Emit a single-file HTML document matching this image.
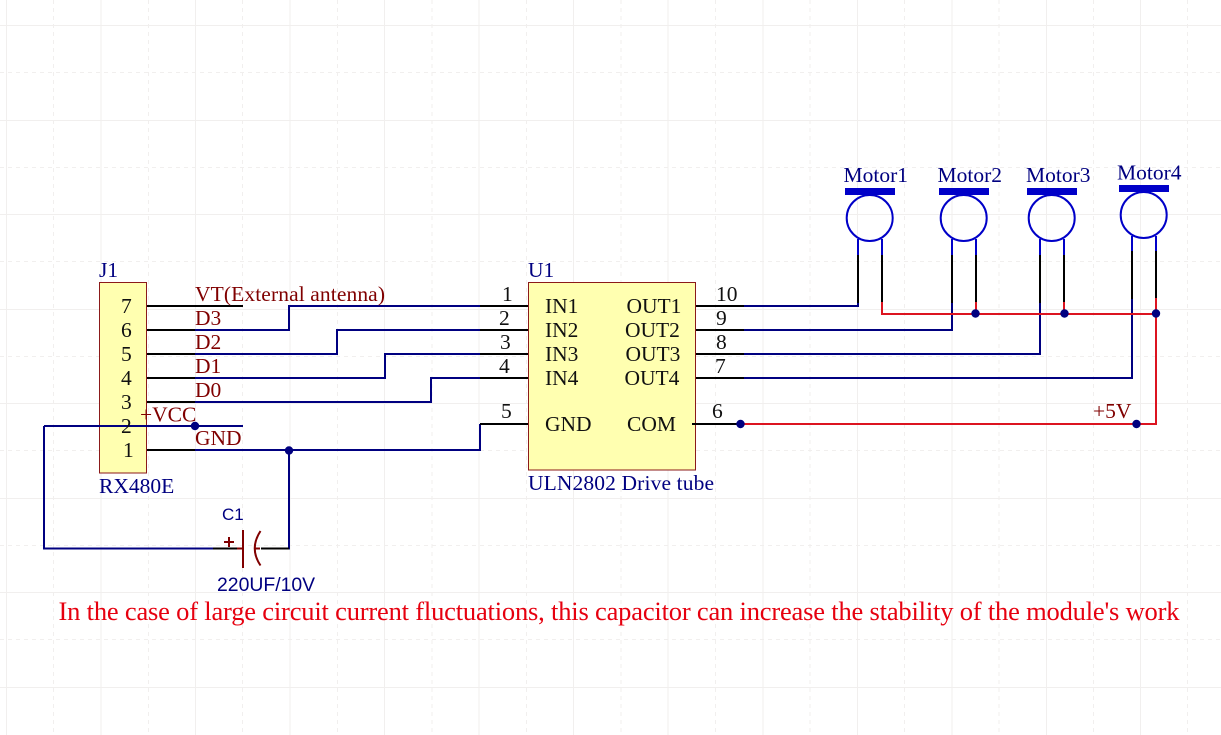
<!DOCTYPE html>
<html><head><meta charset="utf-8"><style>
html,body{margin:0;padding:0;background:#fff}
svg{display:block}
text{font-family:"Liberation Serif",serif;font-size:21.5px}
.n{fill:#000080}.r{fill:#800000}.k{fill:#111}
.a{font-family:"Liberation Sans",sans-serif;font-size:17px;fill:#000080}
</style></head><body>
<svg width="1221" height="735" viewBox="0 0 1221 735" xmlns="http://www.w3.org/2000/svg">
<rect width="1221" height="735" fill="#fff"/>
<g stroke="#f1efee" stroke-width="1" fill="none">
<path d="M6.5 0V735M101 0V735M195.5 0V735M290 0V735M384.5 0V735M479 0V735M573.5 0V735M668 0V735M763 0V735M857.5 0V735M952 0V735M1046.5 0V735M1140.5 0V735"/>
<path d="M0 25.5H1221M0 120.5H1221M0 214.5H1221M0 309.5H1221M0 403.5H1221M0 498.5H1221M0 592.5H1221M0 687.5H1221"/>
<path stroke-dasharray="4 4" d="M53.5 0V735M148.5 0V735M242.5 0V735M337.5 0V735M432 0V735M526.5 0V735M621 0V735M715.5 0V735M810 0V735M904.5 0V735M999 0V735M1093.5 0V735M1187.5 0V735"/>
<path stroke-dasharray="4 4" d="M0 72.5H1221M0 167.5H1221M0 261.5H1221M0 356.5H1221M0 450.5H1221M0 545.5H1221M0 639.5H1221"/>
</g>

<rect x="99.5" y="282.5" width="47" height="190.5" fill="#ffffb0" stroke="#8b1a1a" stroke-width="1"/>
<rect x="528.5" y="282.5" width="167" height="187.5" fill="#ffffb0" stroke="#8b1a1a" stroke-width="1"/>

<!-- navy wires -->
<g fill="none" stroke="#000080" stroke-width="2">
<path d="M195 330H289V306H480"/>
<path d="M195 354H337V330H480"/>
<path d="M195 378H385V354H480"/>
<path d="M195 402H431V378H480"/>
<path d="M44 426H243"/>
<path d="M214 548.5H44V426"/>
<path d="M195 450H480V424"/>
<path d="M261 548.5H289V450"/>
<path d="M744 306H858V302"/>
<path d="M744 330H952V302"/>
<path d="M744 354H1040V302"/>
<path d="M744 378H1132V298"/>
</g>
<!-- black pins -->
<g fill="none" stroke="#000" stroke-width="2">
<path d="M147 306H243M147 330H195M147 354H195M147 378H195M147 402H195M147 450H195"/>
<path d="M480 306H528M480 330H528M480 354H528M480 378H528M480 424H528"/>
<path d="M696 306H744M696 330H744M696 354H744M696 378H744M692 424H740"/>
<path d="M213 548.5H237M261 548.5H289"/>
<path d="M858 255V303M882 255V303M952 255V303M976 255V303M1040 255V303M1064 255V303M1132 251V299M1156 251V299"/>
</g>
<!-- red wires -->
<g fill="none" stroke="#dc1420" stroke-width="2">
<path d="M882 302V314H1156"/>
<path d="M976 302V314M1064 302V314M1156 298V424H744"/>
</g>
<!-- junctions -->
<g fill="#000080">
<circle cx="195" cy="426" r="4.2"/>
<circle cx="289" cy="450.5" r="4.2"/>
<circle cx="740.5" cy="424" r="4.2"/>
<circle cx="1136.5" cy="424" r="4.2"/>
<circle cx="975.5" cy="313.5" r="4.2"/>
<circle cx="1064.5" cy="313.5" r="4.2"/>
<circle cx="1156" cy="313.5" r="4.2"/>
</g>
<!-- capacitor -->
<g fill="none" stroke="#800000" stroke-width="2">
<path d="M243 530V568M237 548.5H243M254 548.5H260"/>
<path d="M260.5 531Q249 548.5 260.5 565.5"/>
<path d="M224 542H234M229 537V547"/>
</g>
<!-- motors -->
<g fill="none" stroke="#0000c8" stroke-width="2">
<circle cx="869.7" cy="218" r="23"/>
<circle cx="963.7" cy="218" r="23"/>
<circle cx="1051.7" cy="218" r="23"/>
<circle cx="1143.7" cy="215" r="23"/>
<path d="M858 239V255M882 239V255M952 239V255M976 239V255M1040 239V255M1064 239V255M1132 236V251M1156 236V251"/>
</g>
<g fill="#0000c8">
<rect x="845" y="188" width="50" height="7"/>
<rect x="939" y="188" width="50" height="7"/>
<rect x="1027" y="188" width="50" height="7"/>
<rect x="1119" y="185" width="50" height="7"/>
</g>

<!-- labels -->
<text class="n" x="99" y="277">J1</text>
<text class="n" x="99" y="493">RX480E</text>
<text class="n" x="528" y="277">U1</text>
<text class="n" x="528" y="490" textLength="186">ULN2802 Drive tube</text>
<text class="n" x="843.5" y="182">Motor1</text>
<text class="n" x="937.5" y="182">Motor2</text>
<text class="n" x="1026" y="182">Motor3</text>
<text class="n" x="1117" y="179.5">Motor4</text>

<text class="k" x="121" y="313">7</text>
<text class="k" x="121" y="337">6</text>
<text class="k" x="121" y="361">5</text>
<text class="k" x="121" y="385">4</text>
<text class="k" x="121" y="409">3</text>
<text class="k" x="121" y="433">2</text>
<text class="k" x="123" y="457">1</text>

<text class="r" x="195" y="301" textLength="190">VT(External antenna)</text>
<text class="r" x="195" y="325">D3</text>
<text class="r" x="195" y="349">D2</text>
<text class="r" x="195" y="373">D1</text>
<text class="r" x="195" y="397">D0</text>
<text class="r" x="140" y="421.5">+VCC</text>
<text class="r" x="195" y="445">GND</text>
<text class="r" x="1093" y="418">+5V</text>

<text class="k" x="502" y="301">1</text>
<text class="k" x="499" y="325">2</text>
<text class="k" x="500" y="349">3</text>
<text class="k" x="499" y="373">4</text>
<text class="k" x="501" y="418">5</text>
<text class="k" x="716" y="301">10</text>
<text class="k" x="716" y="325">9</text>
<text class="k" x="716" y="349">8</text>
<text class="k" x="715" y="373">7</text>
<text class="k" x="712" y="418">6</text>

<text class="k" x="545" y="313">IN1</text>
<text class="k" x="545" y="337">IN2</text>
<text class="k" x="545" y="361">IN3</text>
<text class="k" x="545" y="385">IN4</text>
<text class="k" x="545" y="431">GND</text>
<text class="k" x="626.5" y="313">OUT1</text>
<text class="k" x="625" y="337">OUT2</text>
<text class="k" x="625.5" y="361">OUT3</text>
<text class="k" x="624.5" y="385">OUT4</text>
<text class="k" x="627" y="431">COM</text>

<text class="a" x="222" y="520">C1</text>
<text class="a" x="217" y="591" style="font-size:19.4px">220UF/10V</text>

<text x="58.5" y="620" textLength="1121" style="font-size:26.5px;fill:#e6000f">In the case of large circuit current fluctuations, this capacitor can increase the stability of the module's work</text>
</svg>
</body></html>
